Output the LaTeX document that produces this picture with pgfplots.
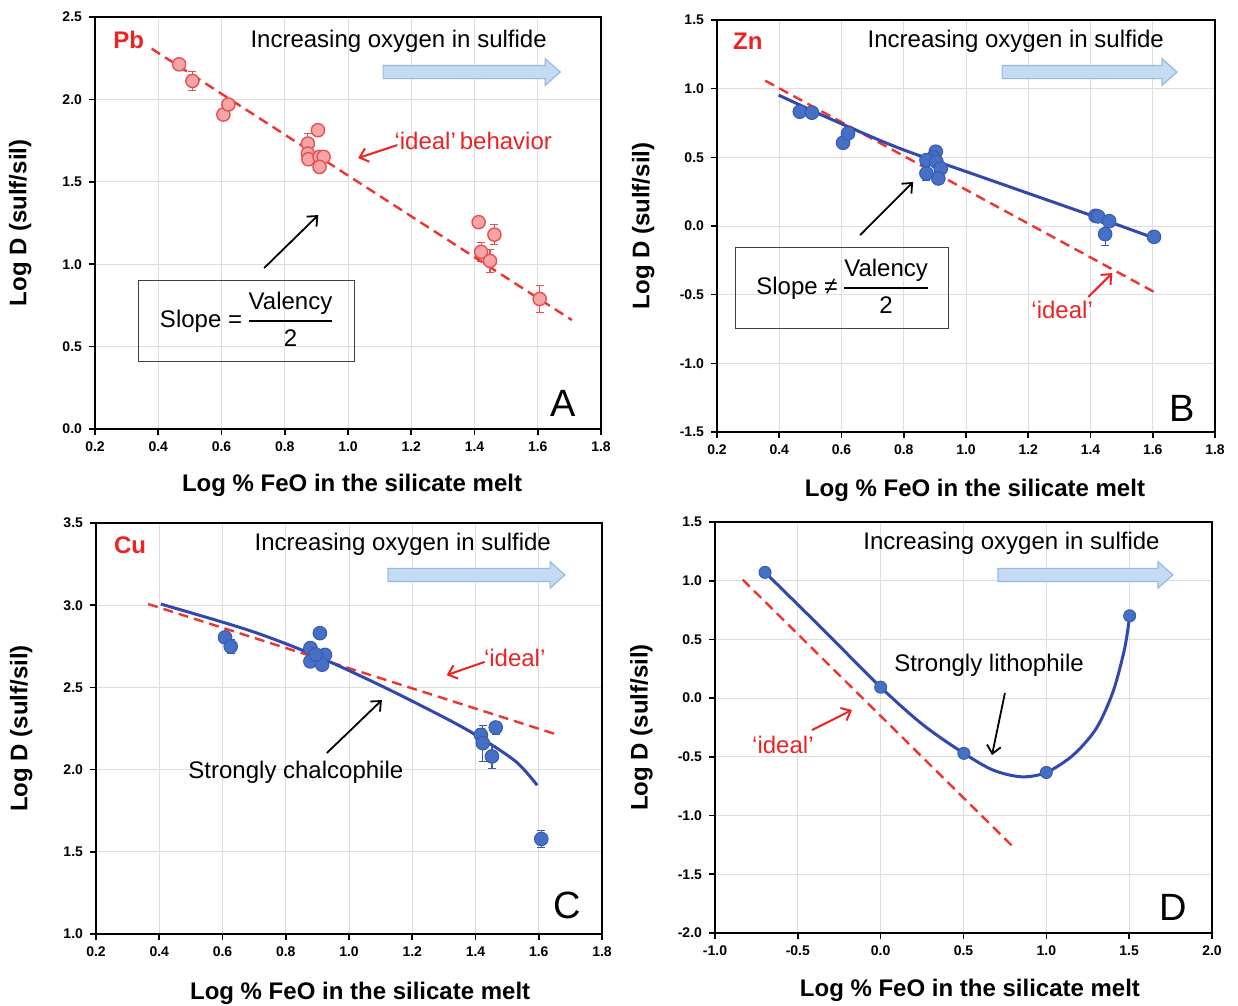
\documentclass[border=0pt]{standalone}
\usepackage{fontspec}
\setmainfont{Liberation Sans}
\usepackage{pgfplots}
\pgfplotsset{compat=1.18}
\usetikzlibrary{arrows.meta}
\definecolor{pbfill}{RGB}{245,165,165}
\definecolor{pbedge}{RGB}{232,80,80}
\definecolor{bfill}{RGB}{70,112,196}
\definecolor{bedge}{RGB}{55,90,180}
\definecolor{bcurve}{RGB}{50,72,172}
\definecolor{rdash}{RGB}{242,50,45}
\definecolor{rtext}{RGB}{235,35,35}
\definecolor{arfill}{RGB}{196,219,241}
\definecolor{aredge}{RGB}{145,186,228}
\definecolor{gridc}{RGB}{222,222,222}
\newcommand{\ann}{\fontsize{12}{14}\selectfont}
\pgfplotsset{
  panel/.style={
    scale only axis, anchor=south west,
    axis line style={line width=0.9pt},
    grid=major, major grid style={draw=gridc, line width=0.4pt},
    tick align=outside, major tick length=3pt,
    tick style={black, line width=0.8pt},
    xtick pos=lower, ytick pos=left,
    /pgf/number format/fixed, /pgf/number format/fixed zerofill,
    /pgf/number format/precision=1, /pgf/number format/assume math mode=true,
    tick label style={font=\fontsize{7}{8}\selectfont\bfseries},
    label style={font=\fontsize{12}{14}\selectfont\bfseries},
    xlabel={Log \% FeO in the silicate melt},
    ylabel={Log D (sulf/sil)},
    ylabel style={at={(axis description cs:-0.148,0.5)}, anchor=center},
  },
  errb/.style={only marks, mark=none, forget plot,
    error bars/.cd, y dir=both, y explicit,
    error bar style={#1, line width=0.6pt}},
}
\tikzset{
  bigarrow/.style={fill=arfill, draw=aredge, line width=0.6pt},
  redarr/.style={rtext, line width=1pt, -{Straight Barb[length=4pt,width=7pt]}},
  blkarr/.style={black, line width=0.9pt, -{Straight Barb[length=4pt,width=7pt]}},
}
% x1, x-head-start, x2, y, body half, head half
\newcommand{\bigarr}[6]{%
  \draw[bigarrow] (axis cs:#1,#4+#5) -- (axis cs:#2,#4+#5) -- (axis cs:#2,#4+#6) -- (axis cs:#3,#4) -- (axis cs:#2,#4-#6) -- (axis cs:#2,#4-#5) -- (axis cs:#1,#4-#5) -- cycle;}
\begin{document}
\begin{tikzpicture}
\useasboundingbox (0,0) rectangle (619pt,503pt);
% ---------------- A: Pb
\begin{axis}[panel, at={(47.5pt,288.5pt)}, width=253pt, height=206pt,
  xmin=0.2, xmax=1.8, ymin=0, ymax=2.5,
  xtick={0.2,0.4,0.6,0.8,1.0,1.2,1.4,1.6,1.8}, ytick={0,0.5,1.0,1.5,2.0,2.5},
  xlabel style={at={(axis description cs:0.508,-0.136)}, anchor=center}]
\addplot[rdash, line width=1.2pt, dash pattern=on 5pt off 3pt] coordinates {(0.379,2.308) (1.708,0.661)};
\addplot[errb=pbedge] coordinates {
 (0.508,2.112) +- (0,0.06)
 (0.873,1.732) +- (0,0.06)
 (1.421,1.075) +- (0,0.06)
 (1.449,1.020) +- (0,0.07)
 (1.463,1.179) +- (0,0.06)
 (1.606,0.789) +- (0,0.08)};
\addplot[only marks, mark=*, mark size=3.3pt, mark options={fill=pbfill, draw=pbedge, line width=0.7pt}] coordinates {
 (0.466,2.213) (0.508,2.112) (0.606,1.908) (0.622,1.969)
 (0.905,1.813) (0.873,1.732) (0.873,1.671) (0.875,1.637)
 (0.910,1.651) (0.923,1.651) (0.910,1.590)
 (1.413,1.255) (1.421,1.075) (1.449,1.020) (1.463,1.179) (1.606,0.789)};
\node[anchor=west, text=rtext, font=\ann\bfseries] at (axis cs:0.236,2.36) {Pb};
\node[font=\ann] at (axis cs:1.160,2.354) {Increasing oxygen in sulfide};
\bigarr{1.111}{1.624}{1.671}{2.166}{0.040}{0.080}
\node[text=rtext, font=\ann] at (axis cs:1.396,1.748) {‘ideal’\,behavior};
\draw[redarr] (axis cs:1.156,1.723) -- (axis cs:1.032,1.644);
\draw[blkarr] (axis cs:0.735,0.977) -- (axis cs:0.906,1.298);
\node[draw=black!75, line width=0.6pt, minimum width=108pt, minimum height=40.5pt, inner sep=0pt, font=\ann] at (axis cs:0.678,0.655)
  {Slope = {\renewcommand{\arraystretch}{1.25}\setlength{\arrayrulewidth}{1pt}\begin{tabular}{@{}c@{}}Valency\\\hline 2\end{tabular}}};
\node[font=\fontsize{19}{22}\selectfont] at (axis cs:1.681,0.158) {A};
\end{axis}
% ---------------- B: Zn
\begin{axis}[panel, at={(358.5pt,287pt)}, width=249pt, height=206pt,
  xmin=0.2, xmax=1.8, ymin=-1.5, ymax=1.5,
  xtick={0.2,0.4,0.6,0.8,1.0,1.2,1.4,1.6,1.8}, ytick={-1.5,-1.0,-0.5,0,0.5,1.0,1.5},
  xlabel style={at={(axis description cs:0.518,-0.141)}, anchor=center}]
\addplot[rdash, line width=1.2pt, dash pattern=on 5pt off 3pt] coordinates {(0.355,1.058) (1.604,-0.480)};
\addplot[bcurve, line width=1.5pt, smooth] coordinates {
 (0.398,0.953) (0.573,0.771) (0.787,0.565) (1.002,0.395) (1.216,0.225) (1.430,0.055) (1.602,-0.086)};
\addplot[errb=bedge] coordinates {
 (0.873,0.383) +- (0,0.05)
 (1.447,-0.059) +- (0,0.08)};
\addplot[only marks, mark=*, mark size=3.4pt, mark options={fill=bfill, draw=bedge, line width=0.5pt}] coordinates {
 (0.466,0.832) (0.505,0.825) (0.605,0.606) (0.621,0.674)
 (0.903,0.541) (0.895,0.500) (0.873,0.480) (0.905,0.468) (0.919,0.419)
 (0.873,0.383) (0.911,0.346)
 (1.416,0.074) (1.424,0.070) (1.460,0.035) (1.447,-0.059) (1.604,-0.079)};
\node[anchor=west, text=rtext, font=\ann\bfseries] at (axis cs:0.229,1.347) {Zn};
\node[font=\ann] at (axis cs:1.160,1.347) {Increasing oxygen in sulfide};
\bigarr{1.116}{1.630}{1.678}{1.121}{0.048}{0.096}
\draw[blkarr] (axis cs:0.660,-0.066) -- (axis cs:0.830,0.320);
\node[draw=black!75, line width=0.6pt, minimum width=106.5pt, minimum height=40.5pt, inner sep=0pt, font=\ann] at (axis cs:0.602,-0.452)
  {Slope ≠ {\renewcommand{\arraystretch}{1.25}\setlength{\arrayrulewidth}{1pt}\begin{tabular}{@{}c@{}}Valency\\\hline 2\end{tabular}}};
\node[text=rtext, font=\ann] at (axis cs:1.309,-0.612) {‘ideal’};
\draw[redarr] (axis cs:1.393,-0.517) -- (axis cs:1.470,-0.343);
\node[font=\fontsize{19}{22}\selectfont] at (axis cs:1.695,-1.326) {B};
\end{axis}
% ---------------- C: Cu
\begin{axis}[panel, at={(48pt,36pt)}, width=253pt, height=205.5pt,
  xmin=0.2, xmax=1.8, ymin=1.0, ymax=3.5,
  xtick={0.2,0.4,0.6,0.8,1.0,1.2,1.4,1.6,1.8}, ytick={1.0,1.5,2.0,2.5,3.0,3.5},
  xlabel style={at={(axis description cs:0.522,-0.144)}, anchor=center}]
\addplot[rdash, line width=1.2pt, dash pattern=on 5pt off 3pt] coordinates {(0.365,3.007) (1.661,2.211)};
\addplot[bcurve, line width=1.5pt, smooth] coordinates {
 (0.405,3.007) (0.687,2.845) (0.898,2.690) (1.107,2.505) (1.318,2.300) (1.423,2.185) (1.530,2.045) (1.595,1.905)};
\addplot[errb=bedge] coordinates {
 (0.626,2.749) +- (0,0.04)
 (1.417,2.211) +- (0,0.04)
 (1.423,2.161) +- (0,0.11)
 (1.452,2.080) +- (0,0.07)
 (1.464,2.256) +- (0,0.04)
 (1.608,1.578) +- (0,0.05)};
\addplot[only marks, mark=*, mark size=3.4pt, mark options={fill=bfill, draw=bedge, line width=0.5pt}] coordinates {
 (0.608,2.804) (0.626,2.749)
 (0.908,2.830) (0.878,2.739) (0.878,2.658) (0.924,2.698) (0.915,2.638) (0.895,2.700)
 (1.417,2.211) (1.423,2.161) (1.452,2.080) (1.464,2.256) (1.608,1.578)};
\node[anchor=west, text=rtext, font=\ann\bfseries] at (axis cs:0.235,3.366) {Cu};
\node[font=\ann] at (axis cs:1.170,3.372) {Increasing oxygen in sulfide};
\bigarr{1.123}{1.636}{1.683}{3.184}{0.040}{0.080}
\node[text=rtext, font=\ann] at (axis cs:1.524,2.679) {‘ideal’};
\draw[redarr] (axis cs:1.429,2.655) -- (axis cs:1.309,2.575);
\node[font=\ann] at (axis cs:0.832,1.985) {Strongly chalcophile};
\draw[blkarr] (axis cs:0.930,2.101) -- (axis cs:1.104,2.423);
\node[font=\fontsize{19}{22}\selectfont] at (axis cs:1.691,1.176) {C};
\end{axis}
% ---------------- D
\begin{axis}[panel, at={(357.5pt,36.5pt)}, width=248.5pt, height=205.5pt,
  xmin=-1.0, xmax=2.0, ymin=-2.0, ymax=1.5,
  xtick={-1.0,-0.5,0,0.5,1.0,1.5,2.0}, ytick={-2.0,-1.5,-1.0,-0.5,0,0.5,1.0,1.5},
  xlabel style={at={(axis description cs:0.513,-0.139)}, anchor=center}]
\addplot[rdash, line width=1.2pt, dash pattern=on 5pt off 3pt] coordinates {(-0.833,1.009) (0.80,-1.267)};
\addplot[bcurve, line width=1.5pt, smooth] coordinates {
 (-0.698,1.071) (-0.346,0.582) (0.0,0.093) (0.257,-0.229) (0.502,-0.470) (0.679,-0.613)
 (0.85,-0.670) (1.0,-0.633) (1.162,-0.485) (1.302,-0.257) (1.403,0.056) (1.473,0.425) (1.503,0.701)};
\addplot[only marks, mark=*, mark size=3.0pt, mark options={fill=bfill, draw=bedge, line width=0.5pt}] coordinates {
 (-0.698,1.071) (0.0,0.093) (0.502,-0.470) (1.0,-0.633) (1.503,0.701)};
\node[font=\ann] at (axis cs:0.790,1.321) {Increasing oxygen in sulfide};
\bigarr{0.708}{1.674}{1.764}{1.049}{0.056}{0.112}
\node[font=\ann] at (axis cs:0.654,0.282) {Strongly lithophile};
\draw[blkarr] (axis cs:0.750,0.043) -- (axis cs:0.672,-0.485);
\node[text=rtext, font=\ann] at (axis cs:-0.590,-0.400) {‘ideal’};
\draw[redarr] (axis cs:-0.415,-0.272) -- (axis cs:-0.173,-0.101);
\node[font=\fontsize{19}{22}\selectfont] at (axis cs:1.764,-1.779) {D};
\end{axis}
\end{tikzpicture}
\end{document}
